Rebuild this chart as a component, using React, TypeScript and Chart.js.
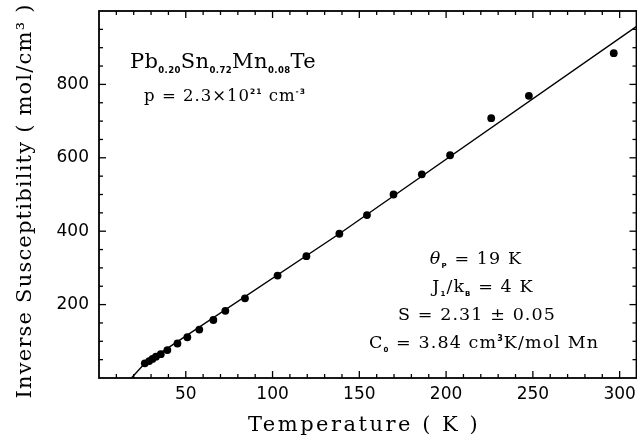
import React, { useEffect, useRef } from "react";
import { Chart, registerables } from "chart.js";

Chart.register(...registerables);

// ---- data ----
const temperatureK = [26.4, 28.9, 30.8, 32.8, 35.6, 39.4, 45.2, 50.9, 57.8, 65.9, 72.8, 84.1, 102.9, 119.5, 138.5, 154.4, 169.7, 186.0, 202.3, 226.0, 247.7, 296.6];
const inverseSusceptibility = [40, 46, 52, 58, 65, 76, 94, 111, 132, 158, 183, 217, 279, 332, 393, 444, 500, 555, 607, 708, 769, 885];
const fitTemperature = [18.7, 26.4, 138.5, 310];
const fitInverse = [0, 40, 393, 959];
const xTickValues = [50, 100, 150, 200, 250, 300];
const yTickValues = [200, 400, 600, 800];
const xRange = [0, 310];
const yRange = [0, 1000];
const xMinorStep = 10;
const yMinorStep = 50;
const xMajorStep = 50;
const yMajorStep = 200;

const xTitle = "Temperature ( K )";
const yTitle = "Inverse Susceptibility ( mol/cm\u00B3 )";

type Seg = { t: string; size: number; dy?: number; bold?: boolean; italic?: boolean; family?: string };

const SERIF = "'DejaVu Serif'";
const SANS = "'DejaVu Sans'";

function fontOf(s: Seg) {
  return `${s.italic ? "italic " : ""}${s.bold ? "bold " : ""}${s.size}px ${s.family ?? SERIF}`;
}

function drawRich(ctx: CanvasRenderingContext2D, segs: Seg[], cx: number, baseline: number, spacing: number) {
  (ctx as any).letterSpacing = spacing + "px";
  const widths = segs.map((s) => {
    ctx.font = fontOf(s);
    return ctx.measureText(s.t).width;
  });
  const total = widths.reduce((a, b) => a + b, 0);
  let x = cx - total / 2;
  ctx.textAlign = "left";
  ctx.textBaseline = "alphabetic";
  segs.forEach((s, i) => {
    ctx.font = fontOf(s);
    ctx.fillText(s.t, x, baseline + (s.dy ?? 0));
    x += widths[i];
  });
  (ctx as any).letterSpacing = "0px";
}

const decorPlugin = {
  id: "decor",
  afterDraw(chart: any) {
    const { ctx, chartArea: a, scales } = chart;
    const x = scales.x;
    const y = scales.y;
    ctx.save();
    ctx.strokeStyle = "#000";
    ctx.fillStyle = "#000";
    ctx.lineWidth = 1.8;
    ctx.strokeRect(a.left, a.top, a.right - a.left - 0.5, a.bottom - a.top);

    ctx.lineWidth = 1.3;
    const seg = (x1: number, y1: number, x2: number, y2: number) => {
      ctx.beginPath();
      ctx.moveTo(x1, y1);
      ctx.lineTo(x2, y2);
      ctx.stroke();
    };
    const nx = Math.floor((xRange[1] - xRange[0]) / xMinorStep);
    for (let i = 1; i <= nx; i++) {
      const v = xRange[0] + i * xMinorStep;
      if (v >= xRange[1]) break;
      const px = x.getPixelForValue(v);
      const L = v % xMajorStep === 0 ? 7 : 4;
      seg(px, a.bottom, px, a.bottom - L);
      seg(px, a.top, px, a.top + L);
    }
    const ny = Math.floor((yRange[1] - yRange[0]) / yMinorStep);
    for (let i = 1; i < ny; i++) {
      const v = yRange[0] + i * yMinorStep;
      const py = y.getPixelForValue(v);
      const L = v % yMajorStep === 0 ? 7 : 4;
      seg(a.left, py, a.left + L, py);
      seg(a.right - 0.5, py, a.right - 0.5 - L, py);
    }

    // axis titles
    ctx.fillStyle = "#000";
    drawRich(ctx, [{ t: xTitle, size: 21 }], 364, 431, 2.5);
    ctx.save();
    ctx.translate(31, 201);
    ctx.rotate(-Math.PI / 2);
    drawRich(ctx, [{ t: yTitle, size: 21 }], 0, 0, 1.2);
    ctx.restore();

    // annotations
    const sub = (t: string, size = 8, dy = 5): Seg => ({ t, size, dy, bold: true, family: SANS });
    drawRich(
      ctx,
      [
        { t: "Pb", size: 21 },
        sub("0.20", 8.5, 5),
        { t: "Sn", size: 21 },
        sub("0.72", 8.5, 5),
        { t: "Mn", size: 21 },
        sub("0.08", 8.5, 5),
        { t: "Te", size: 21 },
      ],
      223,
      68,
      0.4
    );
    drawRich(
      ctx,
      [
        { t: "p = 2.3\u00D710", size: 16.5 },
        sub("21", 7.5, -7),
        { t: " cm", size: 16.5 },
        sub("-3", 7.5, -7),
      ],
      225,
      101,
      1.0
    );
    const F = 17.5;
    const LS = 1.1;
    drawRich(ctx, [{ t: "\u03B8", size: F, italic: true }, sub("P", 7, 4), { t: " = 19 K", size: F }], 476, 264, LS);
    drawRich(
      ctx,
      [{ t: "J", size: F }, sub("1", 7, 4), { t: "/k", size: F }, sub("B", 7, 4), { t: " = 4 K", size: F }],
      483,
      292,
      LS
    );
    drawRich(ctx, [{ t: "S = 2.31 \u00B1 0.05", size: F }], 477, 320, LS);
    drawRich(
      ctx,
      [
        { t: "C", size: F },
        sub("0", 7, 4),
        { t: " = 3.84 cm", size: F },
        sub("3", 8, -7),
        { t: "K/mol Mn", size: F },
      ],
      484,
      348,
      LS
    );
    ctx.restore();
  },
};

export default function App() {
  const ref = useRef<HTMLCanvasElement | null>(null);

  useEffect(() => {
    document.body.style.margin = "0";
    const canvas = ref.current;
    if (!canvas) return;
    const chart = new Chart(canvas, {
      type: "scatter",
      data: {
        datasets: [
          {
            label: "fit",
            data: fitTemperature.map((t, i) => ({ x: t, y: fitInverse[i] })),
            showLine: true,
            borderColor: "#000",
            borderWidth: 1.4,
            pointRadius: 0,
            fill: false,
            tension: 0,
          },
          {
            label: "data",
            data: temperatureK.map((t, i) => ({ x: t, y: inverseSusceptibility[i] })),
            pointRadius: 3.9,
            pointBackgroundColor: "#000",
            pointBorderColor: "#000",
            pointBorderWidth: 0,
            showLine: false,
          },
        ],
      },
      options: {
        responsive: false,
        maintainAspectRatio: false,
        animation: false,
        devicePixelRatio: 1,
        layout: { autoPadding: false, padding: { top: 11, right: 0, left: 0, bottom: 0 } },
        plugins: { legend: { display: false }, tooltip: { enabled: false } },
        scales: {
          x: {
            type: "linear",
            position: "bottom",
            min: xRange[0],
            max: xRange[1],
            border: { display: false },
            grid: { display: false, drawTicks: false },
            ticks: {
              color: "#000",
              font: { family: "DejaVu Sans", size: 17 },
              padding: 6,
              maxRotation: 0,
              autoSkip: false,
            },
            afterBuildTicks: (scale: any) => {
              scale.ticks = xTickValues.map((v) => ({ value: v }));
            },
            afterFit: (scale: any) => {
              scale.height = 64;
              scale.paddingLeft = 0;
              scale.paddingRight = 0;
            },
          },
          y: {
            type: "linear",
            min: yRange[0],
            max: yRange[1],
            border: { display: false },
            grid: { display: false, drawTicks: false },
            ticks: {
              color: "#000",
              font: { family: "DejaVu Sans", size: 17 },
              padding: 10,
              autoSkip: false,
            },
            afterBuildTicks: (scale: any) => {
              scale.ticks = yTickValues.map((v) => ({ value: v }));
            },
            afterFit: (scale: any) => {
              scale.width = 99;
              scale.paddingTop = 0;
              scale.paddingBottom = 0;
            },
          },
        },
      },
      plugins: [decorPlugin],
    } as any);
    return () => chart.destroy();
  }, []);

  return (
    <div style={{ position: "absolute", left: 0, top: 0, width: 637, height: 442, background: "#fff" }}>
      <canvas ref={ref} width={637} height={442} />
    </div>
  );
}
